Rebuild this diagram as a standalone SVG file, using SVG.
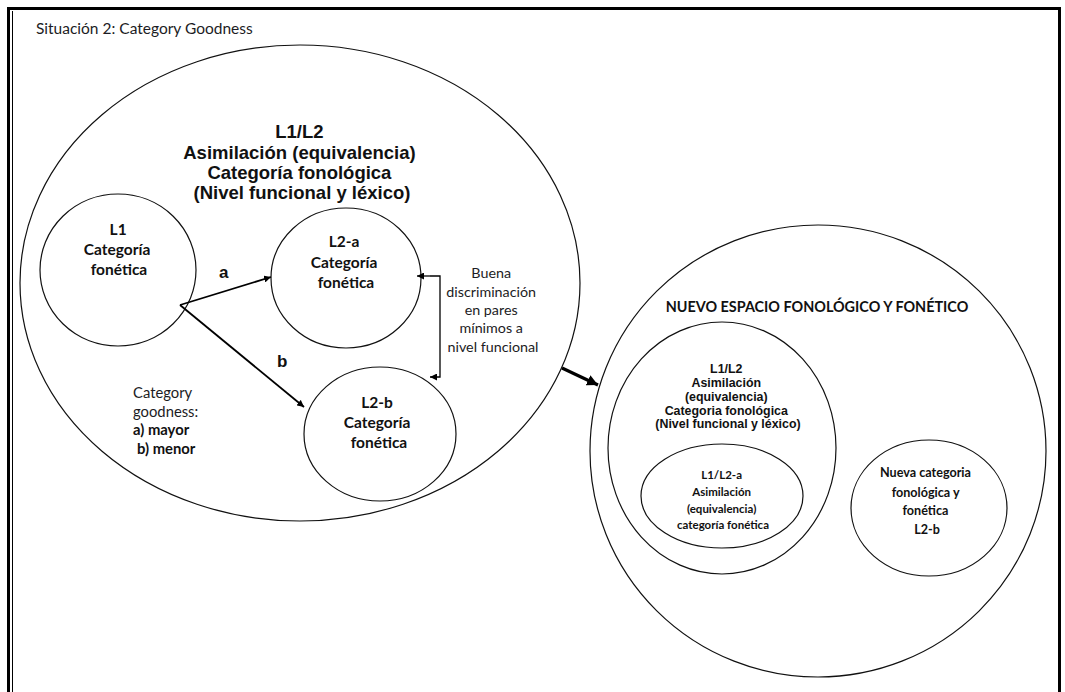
<svg xmlns="http://www.w3.org/2000/svg" width="1065" height="692" viewBox="0 0 1065 692">
  <style>
    .shape { fill: none; stroke: #111; stroke-width: 1.2; }
    .conn { fill: none; stroke: #000; }
    .cal { font-family: Lato, "Open Sans", sans-serif; fill: #1c1c24; }
    .calb { font-family: Lato, "Open Sans", sans-serif; font-weight: bold; fill: #111; }
    .ari { font-family: "Liberation Sans", Arial, sans-serif; font-weight: bold; fill: #111; }
  </style>
  <defs>
    <marker id="head" viewBox="0 0 10 10" refX="10" refY="5" markerWidth="7" markerHeight="7" markerUnits="userSpaceOnUse" orient="auto">
      <path d="M0,0 L10,5 L0,10 z" fill="#000"/>
    </marker>
    <marker id="headL" viewBox="0 0 10 10" refX="10" refY="5" markerWidth="11" markerHeight="11" markerUnits="userSpaceOnUse" orient="auto">
      <path d="M0,0 L10,5 L0,10 z" fill="#000"/>
    </marker>
  </defs>

  <rect width="1065" height="692" fill="#fff"/>

  <!-- page frame -->
  <g id="frame" fill="none" stroke="#000">
    <path d="M8.5,692 V8.5 H1059.5 V692" stroke-width="3"/>
    <path d="M12.5,11 V692" stroke-width="1"/>
  </g>

  <text class="cal" x="36" y="34" font-size="15.5" fill="#333">Situación 2: Category Goodness</text>

  <!-- left space: L1/L2 assimilation -->
  <g id="space-l1l2">
    <ellipse class="shape" cx="300" cy="283" rx="280" ry="238"/>
    <text class="ari" font-size="18.5" text-anchor="middle">
      <tspan x="302" y="138">L1/L2</tspan>
      <tspan x="302" y="159">Asimilación (equivalencia)</tspan>
      <tspan x="302" y="179">Categoría fonológica</tspan>
      <tspan x="302" y="199">(Nivel funcional y léxico)</tspan>
    </text>
  </g>

  <g id="l1">
    <ellipse class="shape" cx="118" cy="270" rx="78" ry="76"/>
    <text class="calb" font-size="15.5" text-anchor="middle">
      <tspan x="120" y="235">L1</tspan>
      <tspan x="119" y="255">Categoría</tspan>
      <tspan x="119" y="275">fonética</tspan>
    </text>
  </g>

  <g id="l2a">
    <ellipse class="shape" cx="346" cy="278" rx="75" ry="70"/>
    <text class="calb" font-size="15.5" text-anchor="middle">
      <tspan x="346" y="247">L2-a</tspan>
      <tspan x="346" y="268">Categoría</tspan>
      <tspan x="346" y="288">fonética</tspan>
    </text>
  </g>

  <g id="l2b">
    <ellipse class="shape" cx="380" cy="434" rx="76" ry="67"/>
    <text class="calb" font-size="15.5" text-anchor="middle">
      <tspan x="379" y="408">L2-b</tspan>
      <tspan x="379" y="428">Categoría</tspan>
      <tspan x="379" y="448">fonética</tspan>
    </text>
  </g>

  <g id="goodness-note">
    <text class="cal" font-size="14.8" x="133" y="398">Category</text>
    <text class="cal" font-size="14.8" x="133" y="417">goodness:</text>
    <text class="calb" font-size="14.8" x="133" y="435">a) mayor</text>
    <text class="calb" font-size="14.8" x="137" y="454">b) menor</text>
  </g>

  <g id="discrimination-note">
    <text class="cal" font-size="14.3" text-anchor="middle">
      <tspan x="493" y="278">Buena</tspan>
      <tspan x="493" y="297">discriminación</tspan>
      <tspan x="493" y="315">en pares</tspan>
      <tspan x="493" y="333">mínimos a</tspan>
      <tspan x="493" y="352">nivel funcional</tspan>
    </text>
  </g>

  <!-- right space: new phonological and phonetic space -->
  <g id="space-new">
    <ellipse class="shape" cx="818" cy="451" rx="228" ry="226"/>
    <text class="calb" font-size="14.4" x="817" y="312" text-anchor="middle">NUEVO ESPACIO FONOLÓGICO Y FONÉTICO</text>
  </g>

  <g id="new-l1l2">
    <ellipse class="shape" cx="722" cy="448" rx="114" ry="126"/>
    <text class="ari" font-size="12.4" text-anchor="middle">
      <tspan x="728" y="373">L1/L2</tspan>
      <tspan x="728" y="387">Asimilación</tspan>
      <tspan x="728" y="401">(equivalencia)</tspan>
      <tspan x="728" y="415">Categoria fonológica</tspan>
      <tspan x="728" y="428">(Nivel funcional y léxico)</tspan>
    </text>
  </g>

  <g id="new-l1l2a">
    <ellipse class="shape" cx="722" cy="496" rx="81" ry="52"/>
    <text class="calb" font-size="11.5" text-anchor="middle">
      <tspan x="723" y="479">L1/L2-a</tspan>
      <tspan x="723" y="496">Asimilación</tspan>
      <tspan x="723" y="513">(equivalencia)</tspan>
      <tspan x="723" y="529">categoría fonética</tspan>
    </text>
  </g>

  <g id="new-l2b">
    <ellipse class="shape" cx="929" cy="508" rx="78" ry="68"/>
    <text class="calb" font-size="12.6" text-anchor="middle">
      <tspan x="927" y="477">Nueva categoria</tspan>
      <tspan x="927" y="497">fonológica y</tspan>
      <tspan x="927" y="515">fonética</tspan>
      <tspan x="927" y="534">L2-b</tspan>
    </text>
  </g>

  <!-- connectors -->
  <g id="connectors">
    <line class="conn" style="stroke-width:1.8" x1="180" y1="305" x2="271" y2="277" marker-end="url(#head)"/>
    <line class="conn" style="stroke-width:1.8" x1="180" y1="305" x2="304" y2="407" marker-end="url(#head)"/>
    <path class="conn" style="stroke-width:1.3" d="M430,276 H440 V377 H430" marker-end="url(#head)"/>
    <line class="conn" style="stroke-width:1.3" x1="430" y1="276" x2="417" y2="276" marker-end="url(#head)"/>
    <line class="conn" style="stroke-width:3.2" x1="562" y1="368" x2="598" y2="385" marker-end="url(#headL)"/>
    <text class="ari" font-size="17" x="219" y="278">a</text>
    <text class="ari" font-size="17" x="277" y="367">b</text>
  </g>
</svg>
